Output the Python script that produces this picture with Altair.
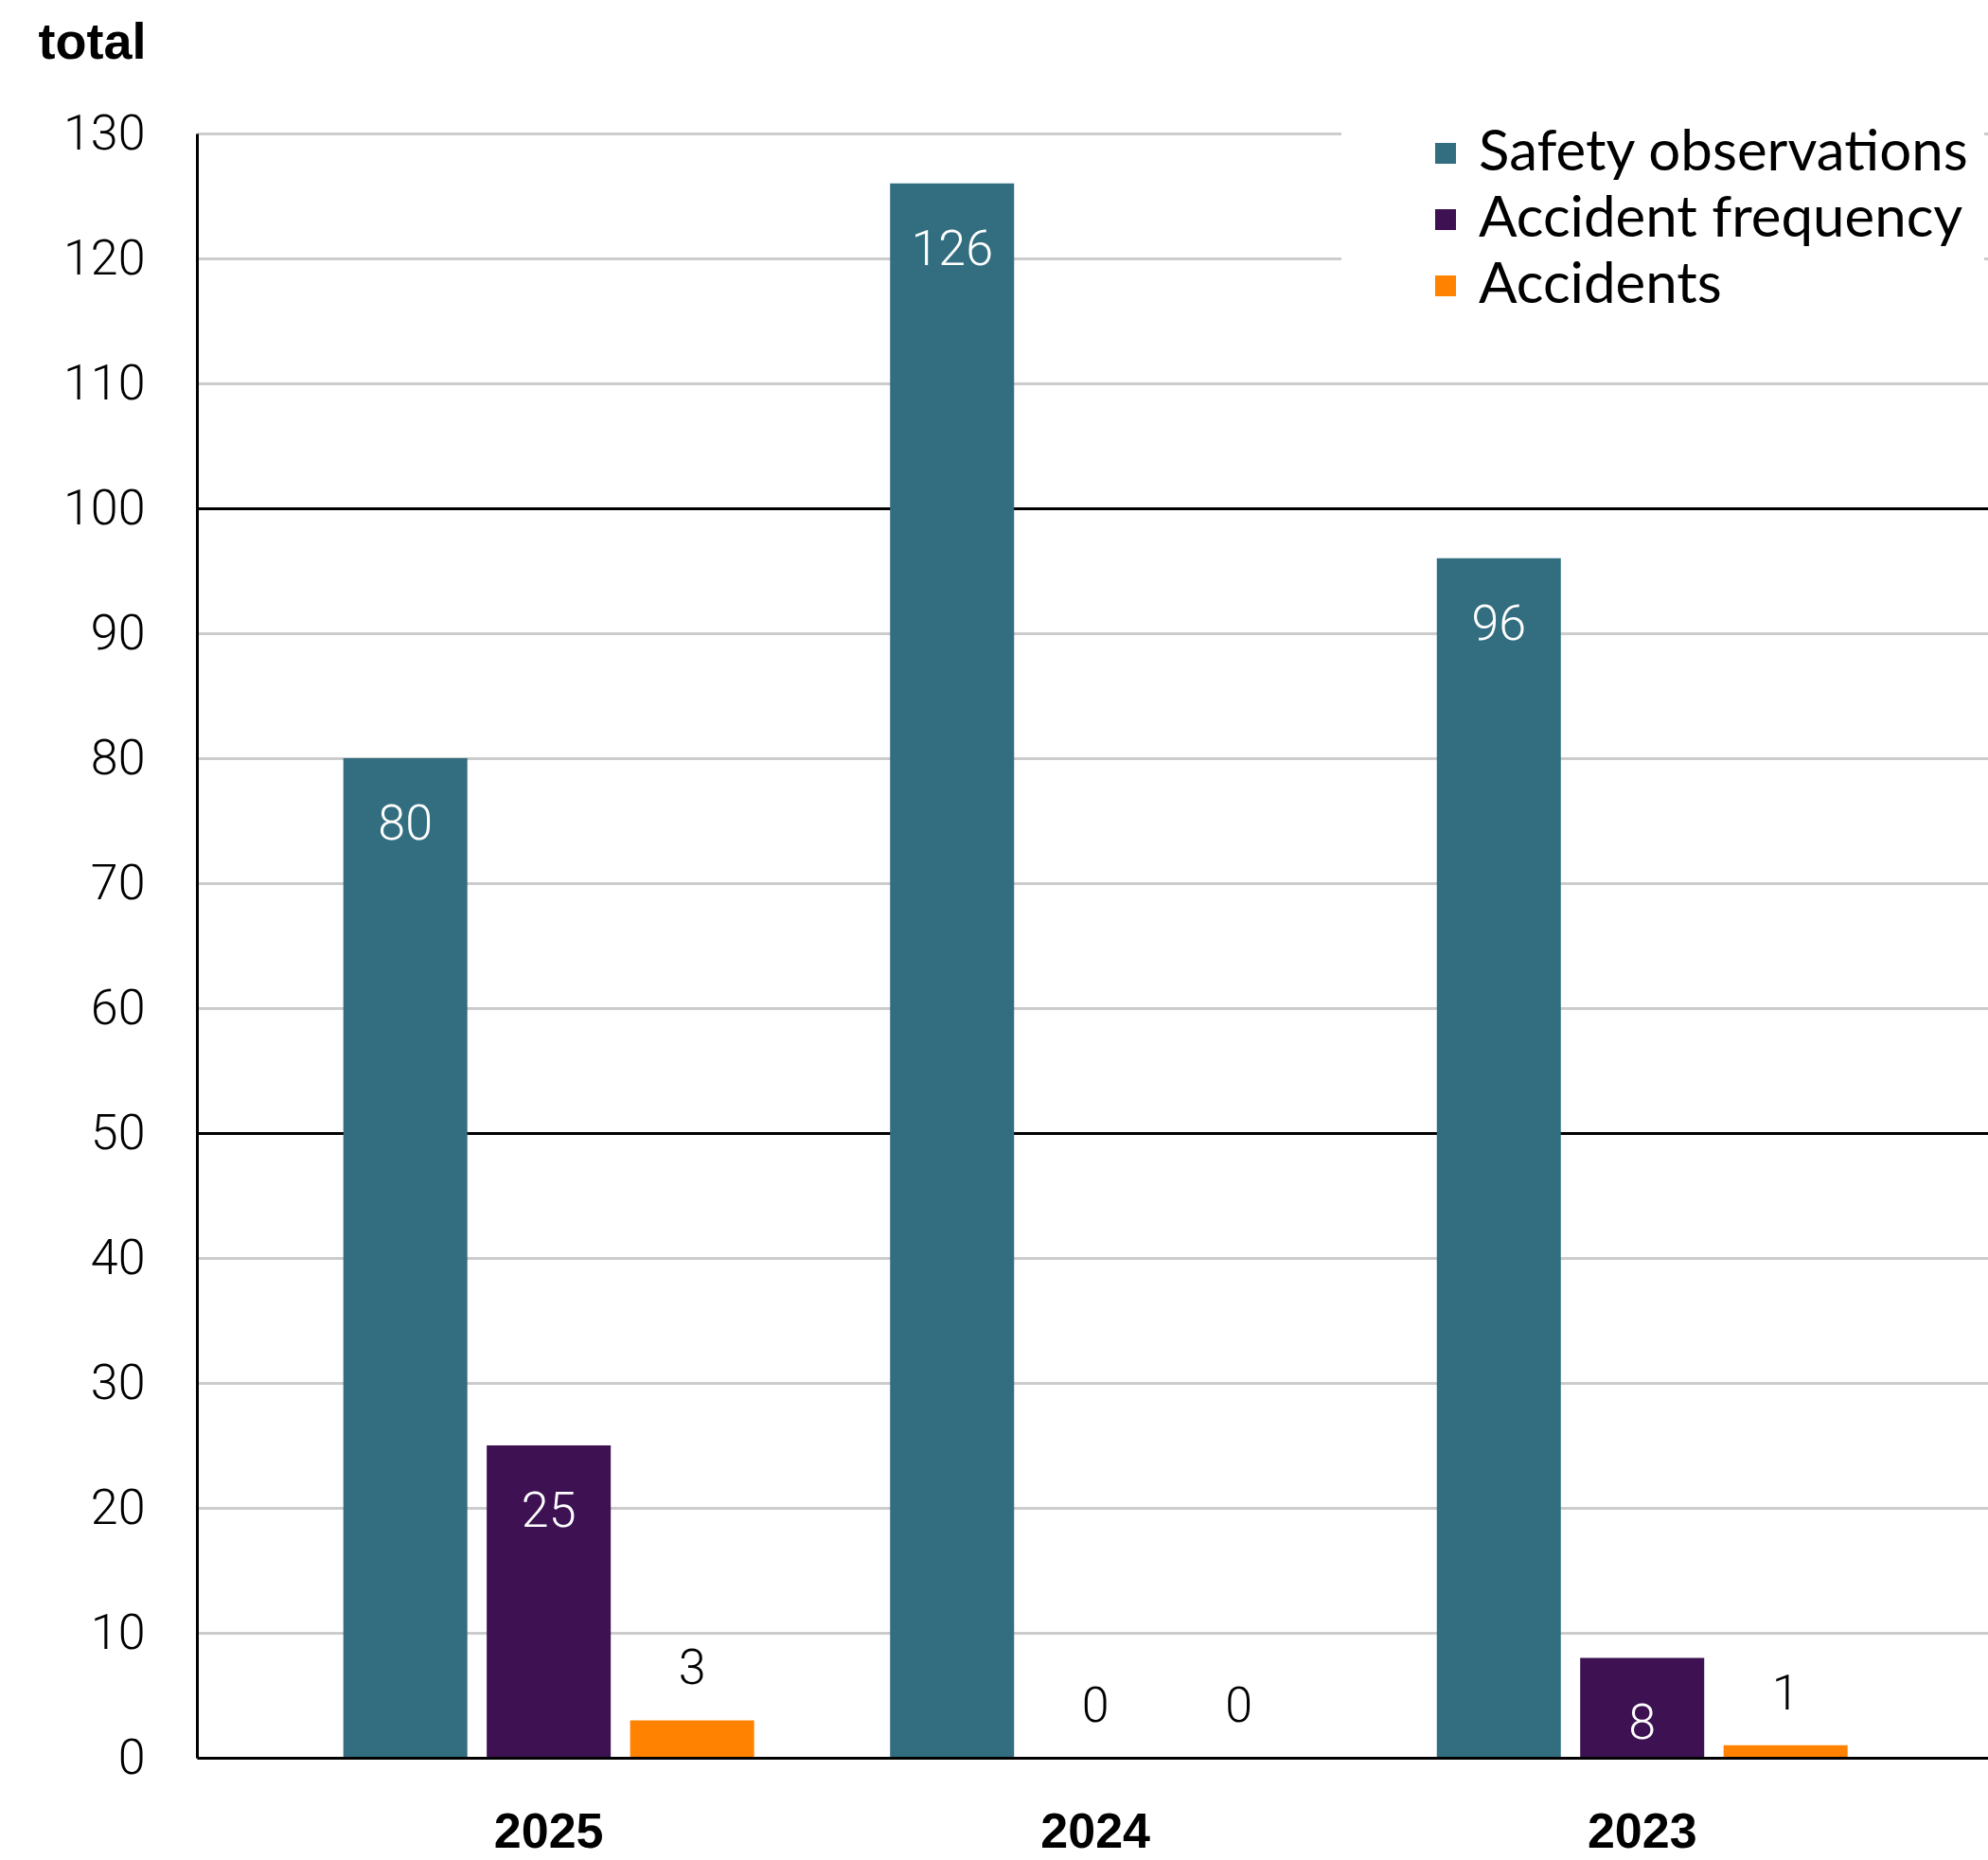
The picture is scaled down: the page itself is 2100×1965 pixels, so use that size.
import altair as alt
import pandas as pd

# Chart values
years = ["2025", "2024", "2023"]
series = ["Safety observations", "Accident frequency", "Accidents"]
safety_observations = [80, 126, 96]
accident_frequency = [25, 0, 8]
accidents = [3, 0, 1]
colors = ["#336e80", "#3d1152", "#ff8200"]
y_ticks = list(range(0, 131, 10))

rows = []
for name, vals in zip(series, [safety_observations, accident_frequency, accidents]):
    for yr, v in zip(years, vals):
        rows.append({"year": yr, "series": name, "value": v})
df = pd.DataFrame(rows)

label_font = "Roboto"

x = alt.X(
    "year:N",
    sort=years,
    scale=alt.Scale(paddingInner=0, paddingOuter=0.138, align=0.52),
    axis=alt.Axis(
        title=None,
        labelAngle=0,
        labelFont="Liberation Sans",
        labelFontWeight="bold",
        labelFontSize=52,
        labelColor="black",
        labelPadding=53,
        ticks=False,
        domainColor="black",
        domainWidth=3,
        grid=False,
        zindex=1,
    ),
)
x_off = alt.XOffset(
    "series:N",
    sort=series,
    scale=alt.Scale(paddingInner=0.135, paddingOuter=0.474),
)
y = alt.Y(
    "value:Q",
    scale=alt.Scale(domain=[0, 130], nice=False),
    axis=alt.Axis(
        values=y_ticks,
        title="total",
        titleAngle=0,
        titleAlign="left",
        titleBaseline="alphabetic",
        titleX=-168,
        titleY=-80,
        titleFont="Liberation Sans",
        titleFontWeight="bold",
        titleFontSize=54,
        titleColor="black",
        labelFont=label_font,
        labelFontWeight=300,
        labelFontSize=52,
        labelColor="black",
        labelPadding=55,
        ticks=False,
        domainColor="black",
        domainWidth=3,
        gridColor={
            "condition": {"test": "datum.value === 50 || datum.value === 100", "value": "black"},
            "value": "#cccccc",
        },
        gridWidth=3,
    ),
)
color = alt.Color(
    "series:N",
    sort=series,
    scale=alt.Scale(domain=series, range=colors),
    legend=alt.Legend(
        title=" ",
        titleOrient="left",
        titleFontSize=1,
        titlePadding=65,
        orient="none",
        legendX=1209,
        legendY=-24,
        fillColor="white",
        padding=15,
        symbolType="square",
        symbolSize=484,
        symbolStrokeWidth=0,
        labelFont="Lato",
        labelFontSize=60,
        labelColor="black",
        labelOffset=5,
        labelLimit=1000,
        rowPadding=10,
    ),
)

base = alt.Chart(df).encode(x=x, xOffset=x_off, y=y)

bars = base.mark_bar().encode(color=color)

inside = base.transform_filter("datum.value >= 5").mark_text(
    dy=70, color="white", font=label_font, fontWeight=300, fontSize=52, baseline="middle"
).encode(text="value:Q")

outside = base.transform_filter("datum.value < 5").mark_text(
    dy=-54, color="black", font=label_font, fontWeight=300, fontSize=52, baseline="middle"
).encode(text="value:Q")

chart = (
    alt.layer(bars, inside, outside)
    .properties(
        width=1892,
        height=1716,
        autosize=alt.AutoSizeParams(type="none"),
        padding={"left": 208, "top": 141, "right": 0, "bottom": 108},
        background="white",
    )
    .configure_view(stroke=None)
)

chart.save("out.html", embed_options={"renderer": "svg", "actions": False})
